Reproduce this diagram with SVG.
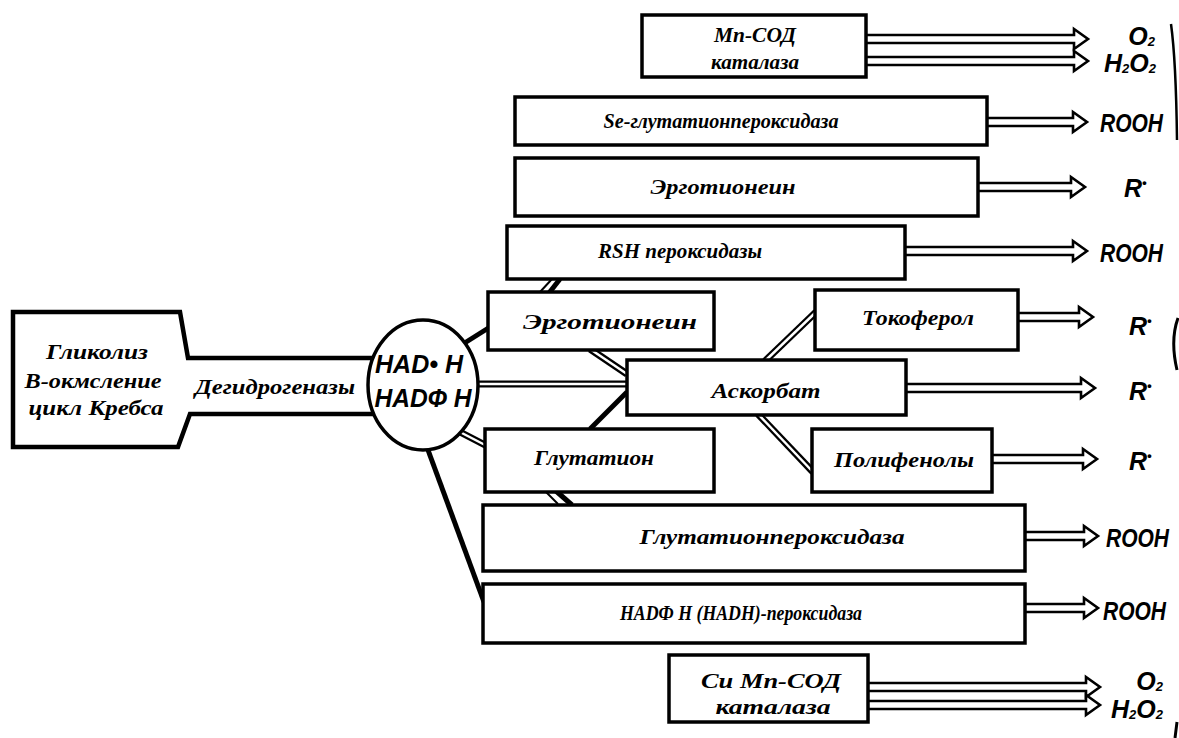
<svg xmlns="http://www.w3.org/2000/svg" width="1179" height="738" viewBox="0 0 1179 738">
<style>
.box{fill:#fff;stroke:#000;stroke-width:3.5}
.t{font-family:"Liberation Serif",serif;font-weight:bold;font-style:italic;font-size:21px;text-anchor:middle;fill:#000}
.p{font-family:"Liberation Sans Narrow","Liberation Sans",sans-serif;font-weight:bold;font-style:italic;font-size:25px;fill:#000}
.pe{text-anchor:end}
.s{font-size:13px}
.arr{fill:#fff;stroke:#000;stroke-width:2.6;stroke-linejoin:miter}
.thick{stroke:#000;stroke-width:5;fill:none}
.dbl{stroke:#000;stroke-width:7;fill:none}
.dbli{stroke:#fff;stroke-width:2.5;fill:none}
.nad{font-family:"Liberation Sans",sans-serif;font-weight:bold;font-style:italic;font-size:25px;text-anchor:middle}
</style>
<rect width="1179" height="738" fill="#fff"/>

<g id="connectors">
  <line class="thick" x1="463" y1="344" x2="490" y2="327"/>
  <line class="dbl" x1="472" y1="384" x2="628" y2="384"/>
  <line class="dbli" x1="472" y1="384" x2="628" y2="384"/>
  <line class="dbl" x1="590" y1="349" x2="627" y2="374"/>
  <line class="dbli" x1="590" y1="349" x2="627" y2="374"/>
  <line class="thick" x1="590" y1="429" x2="627" y2="392"/>
  <line class="dbl" x1="458" y1="431" x2="487" y2="446"/>
  <line class="dbli" x1="458" y1="431" x2="487" y2="446"/>
  <line class="thick" x1="428" y1="450" x2="484" y2="602"/>
  <line class="dbl" x1="765" y1="361" x2="816" y2="312"/>
  <line class="dbli" x1="765" y1="361" x2="816" y2="312"/>
  <line class="dbl" x1="758" y1="414" x2="813" y2="472"/>
  <line class="dbli" x1="758" y1="414" x2="813" y2="472"/>
  <path d="M549,293 L560,279" class="thick"/>
  <line x1="540" y1="292" x2="552" y2="279" stroke="#000" stroke-width="2"/>
  <path d="M556,491 L572,505" class="thick"/>
  <line x1="545" y1="491" x2="558" y2="504" stroke="#000" stroke-width="2"/>

  <path class="arr" d="M866,35 H1074 V29 L1088,39 L1074,49 V43 H866"/>
  <path class="arr" d="M866,57 H1074 V51 L1088,61 L1074,71 V65 H866"/>
  <path class="arr" d="M987,118 H1073 V112 L1087,122 L1073,132 V126 H987"/>
  <path class="arr" d="M978,183 H1071 V177 L1085,187 L1071,197 V191 H978"/>
  <path class="arr" d="M905,247 H1073 V241 L1087,251 L1073,261 V255 H905"/>
  <path class="arr" d="M1018,313 H1079 V307 L1093,317 L1079,327 V321 H1018"/>
  <path class="arr" d="M906,384 H1081 V378 L1095,388 L1081,398 V392 H906"/>
  <path class="arr" d="M992,455 H1083 V449 L1097,459 L1083,469 V463 H992"/>
  <path class="arr" d="M1025,532 H1084 V526 L1098,536 L1084,546 V540 H1025"/>
  <path class="arr" d="M1025,604 H1084 V598 L1098,608 L1084,618 V612 H1025"/>
  <path class="arr" d="M868,683 H1086 V677 L1100,687 L1086,697 V691 H868"/>
  <path class="arr" d="M868,701 H1086 V695 L1100,705 L1086,715 V709 H868"/>
</g>

<g id="source">
  <path d="M378,358 H188 L180,312 H13 V447 H178 L190,414 H378" fill="#fff" stroke="#000" stroke-width="4.5"/>
  <text class="t" x="97" y="359" textLength="102" lengthAdjust="spacingAndGlyphs">Гликолиз</text>
  <text class="t" x="93" y="388" textLength="137" lengthAdjust="spacingAndGlyphs">В-окмсление</text>
  <text class="t" x="96" y="415" textLength="135" lengthAdjust="spacingAndGlyphs">цикл Кребса</text>
  <text class="t" x="275" y="394" textLength="160" lengthAdjust="spacingAndGlyphs">Дегидрогеназы</text>
</g>

<g id="nadh">
  <ellipse cx="423" cy="385" rx="55" ry="65" fill="#fff" stroke="#000" stroke-width="3.5"/>
  <text class="nad" x="419" y="373" textLength="88" lengthAdjust="spacingAndGlyphs">НАD• Н</text>
  <text class="nad" x="423" y="407" textLength="97" lengthAdjust="spacingAndGlyphs">НАDФ Н</text>
</g>

<g id="mnsod">
  <rect class="box" x="642" y="15" width="224" height="62"/>
  <text class="t" x="755" y="42" textLength="82" lengthAdjust="spacingAndGlyphs">Мn-СОД</text>
  <text class="t" x="755" y="69" textLength="88" lengthAdjust="spacingAndGlyphs">каталаза</text>
</g>
<g id="se-gpx">
  <rect class="box" x="515" y="97" width="472" height="48"/>
  <text class="t" x="721" y="128" textLength="235" lengthAdjust="spacingAndGlyphs">Se-глутатионпероксидаза</text>
</g>
<g id="ergo1">
  <rect class="box" x="515" y="158" width="463" height="58"/>
  <text class="t" x="723" y="194" textLength="145" lengthAdjust="spacingAndGlyphs">Эрготионеин</text>
</g>
<g id="rsh">
  <rect class="box" x="507" y="226" width="398" height="53"/>
  <text class="t" x="680" y="258" textLength="164" lengthAdjust="spacingAndGlyphs">RSH пероксидазы</text>
</g>
<g id="ergo2">
  <rect class="box" x="488" y="292" width="226" height="58"/>
  <text class="t" x="610" y="329" textLength="174" lengthAdjust="spacingAndGlyphs">Эрготионеин</text>
</g>
<g id="tocopherol">
  <rect class="box" x="815" y="290" width="203" height="60"/>
  <text class="t" x="918" y="325" textLength="112" lengthAdjust="spacingAndGlyphs">Токоферол</text>
</g>
<g id="ascorbate">
  <rect class="box" x="627" y="360" width="279" height="55"/>
  <text class="t" x="766" y="398" textLength="109" lengthAdjust="spacingAndGlyphs">Аскорбат</text>
</g>
<g id="polyphenols">
  <rect class="box" x="812" y="429" width="180" height="63"/>
  <text class="t" x="904" y="467" textLength="140" lengthAdjust="spacingAndGlyphs">Полифенолы</text>
</g>
<g id="glutathione">
  <rect class="box" x="485" y="429" width="229" height="63"/>
  <text class="t" x="594" y="465" textLength="120" lengthAdjust="spacingAndGlyphs">Глутатион</text>
</g>
<g id="gpx">
  <rect class="box" x="483" y="505" width="542" height="66"/>
  <text class="t" x="772" y="544" textLength="265" lengthAdjust="spacingAndGlyphs">Глутатионпероксидаза</text>
</g>
<g id="nadph-px">
  <rect class="box" x="483" y="584" width="542" height="59"/>
  <text class="t" x="741" y="620" textLength="242" lengthAdjust="spacingAndGlyphs">НАDФ Н (НАDН)-пероксидаза</text>
</g>
<g id="cumnsod">
  <rect class="box" x="669" y="655" width="199" height="67"/>
  <text class="t" x="771" y="688" textLength="140" lengthAdjust="spacingAndGlyphs">Cu Мn-СОД</text>
  <text class="t" x="773" y="714" textLength="115" lengthAdjust="spacingAndGlyphs">каталаза</text>
</g>

<g id="products">
  <text class="p pe" x="1155" y="45">O<tspan class="s" dy="1">2</tspan></text>
  <text class="p pe" x="1156" y="72">H<tspan class="s" dy="1">2</tspan><tspan dy="-1">O</tspan><tspan class="s" dy="1">2</tspan></text>
  <text class="p" x="1100" y="132" textLength="63" lengthAdjust="spacingAndGlyphs">ROOH</text>
  <text class="p" x="1124" y="197">R<tspan class="s" dy="-10">•</tspan></text>
  <text class="p" x="1100" y="262" textLength="63" lengthAdjust="spacingAndGlyphs">ROOH</text>
  <text class="p" x="1129" y="335">R<tspan class="s" dy="-10">•</tspan></text>
  <text class="p" x="1129" y="400">R<tspan class="s" dy="-10">•</tspan></text>
  <text class="p" x="1129" y="470">R<tspan class="s" dy="-10">•</tspan></text>
  <text class="p" x="1106" y="547" textLength="63" lengthAdjust="spacingAndGlyphs">ROOH</text>
  <text class="p" x="1103" y="620" textLength="63" lengthAdjust="spacingAndGlyphs">ROOH</text>
  <text class="p pe" x="1163" y="690">O<tspan class="s" dy="1">2</tspan></text>
  <text class="p pe" x="1163" y="718">H<tspan class="s" dy="1">2</tspan><tspan dy="-1">O</tspan><tspan class="s" dy="1">2</tspan></text>
</g>

<g id="edge-marks" fill="none" stroke="#000" stroke-width="3">
  <path d="M1171,24 Q1176,60 1177,140" stroke-width="2.5"/>
  <path d="M1178,318 Q1170,340 1177,370"/>
  <path d="M1177,722 L1175,738"/>
</g>
</svg>
